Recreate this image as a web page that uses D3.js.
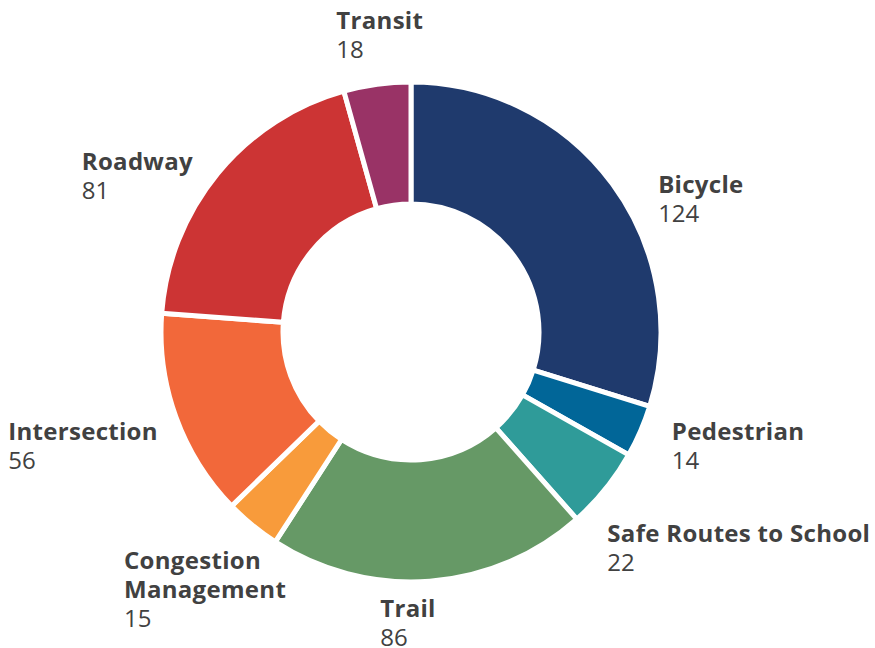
<!DOCTYPE html>
<html>
<head>
<meta charset="utf-8">
<script src="https://cdn.jsdelivr.net/npm/d3@7"></script>
<style>
  html, body { margin: 0; padding: 0; background: #ffffff; }
  svg { display: block; }
  .lbl-name { font-weight: 700; letter-spacing: 0.3px; }
  .lbl text { font-family: "Open Sans", "Noto Sans", sans-serif; font-size: 24px; fill: #414141; }
</style>
</head>
<body>
<svg id="chart" width="875" height="648"></svg>
<script>
// Project counts by category, clockwise from 12 o'clock
const categories = ["Bicycle", "Pedestrian", "Safe Routes to School", "Trail",
                    "Congestion Management", "Intersection", "Roadway", "Transit"];
const counts = [124, 14, 22, 86, 15, 56, 81, 18];
const colors = ["#1f3a6d", "#016698", "#2f9b99", "#669966",
                "#f89b3b", "#f2683a", "#cc3434", "#993366"];
// Label lines: category names wrapped where the layout needs it
const nameLines = [["Bicycle"], ["Pedestrian"], ["Safe Routes to School"], ["Trail"],
                   ["Congestion", "Management"], ["Intersection"], ["Roadway"], ["Transit"]];

const W = 875, H = 648;
const cx = 411, cy = 332;
const outerR = 250, innerR = 128;
const labelR = 282;
const lineH = 29;

// Hand-tuned label nudges (dx, dy) applied after the radial placement
const labelNudge = [[20, 33], [2, 1], [-23, 38], [-52, 9],
                    [54, 39], [12, 17], [0, 22], [7, -19]];

const svg = d3.select("#chart");
const g = svg.append("g").attr("transform", `translate(${cx},${cy})`);

const data = categories.map((c, i) => ({ name: c, value: counts[i], color: colors[i], lines: nameLines[i], i }));

const pie = d3.pie().value(d => d.value).sort(null);
const arc = d3.arc().innerRadius(innerR).outerRadius(outerR);
const arcs = pie(data);

g.selectAll("path.slice")
  .data(arcs)
  .join("path")
  .attr("class", "slice")
  .attr("d", arc)
  .attr("fill", d => d.data.color)
  .attr("stroke", "#ffffff")
  .attr("stroke-width", 5)
  .attr("stroke-linejoin", "round");

// Labels: anchor on a circle beyond the ring at each slice's mid-angle
const labels = svg.append("g").attr("class", "lbl");
arcs.forEach(a => {
  const mid = (a.startAngle + a.endAngle) / 2;
  const s = Math.sin(mid), c = Math.cos(mid);
  const ax = cx + labelR * s + labelNudge[a.data.i][0];
  const ay = cy - labelR * c + labelNudge[a.data.i][1];
  const lines = a.data.lines.map(t => ({ t, bold: true })).concat([{ t: String(a.data.value), bold: false }]);

  const block = labels.append("g");
  const txt = block.append("text");
  lines.forEach((ln, k) => {
    txt.append("tspan")
      .attr("x", 0)
      .attr("y", k * lineH)
      .attr("class", ln.bold ? "lbl-name" : null)
      .text(ln.t);
  });
  const bb = txt.node().getBBox();
  // horizontal alignment of the block: centred near the top, otherwise by side
  let x0;
  if (Math.abs(s) < 0.15 && c > 0) x0 = ax - bb.width / 2;
  else if (s >= 0 || Math.abs(s) < 0.15) x0 = ax;
  else x0 = ax - bb.width;
  const y0 = ay - (bb.y + bb.height / 2);
  block.attr("transform", `translate(${x0},${y0})`);
});
</script>
</body>
</html>
